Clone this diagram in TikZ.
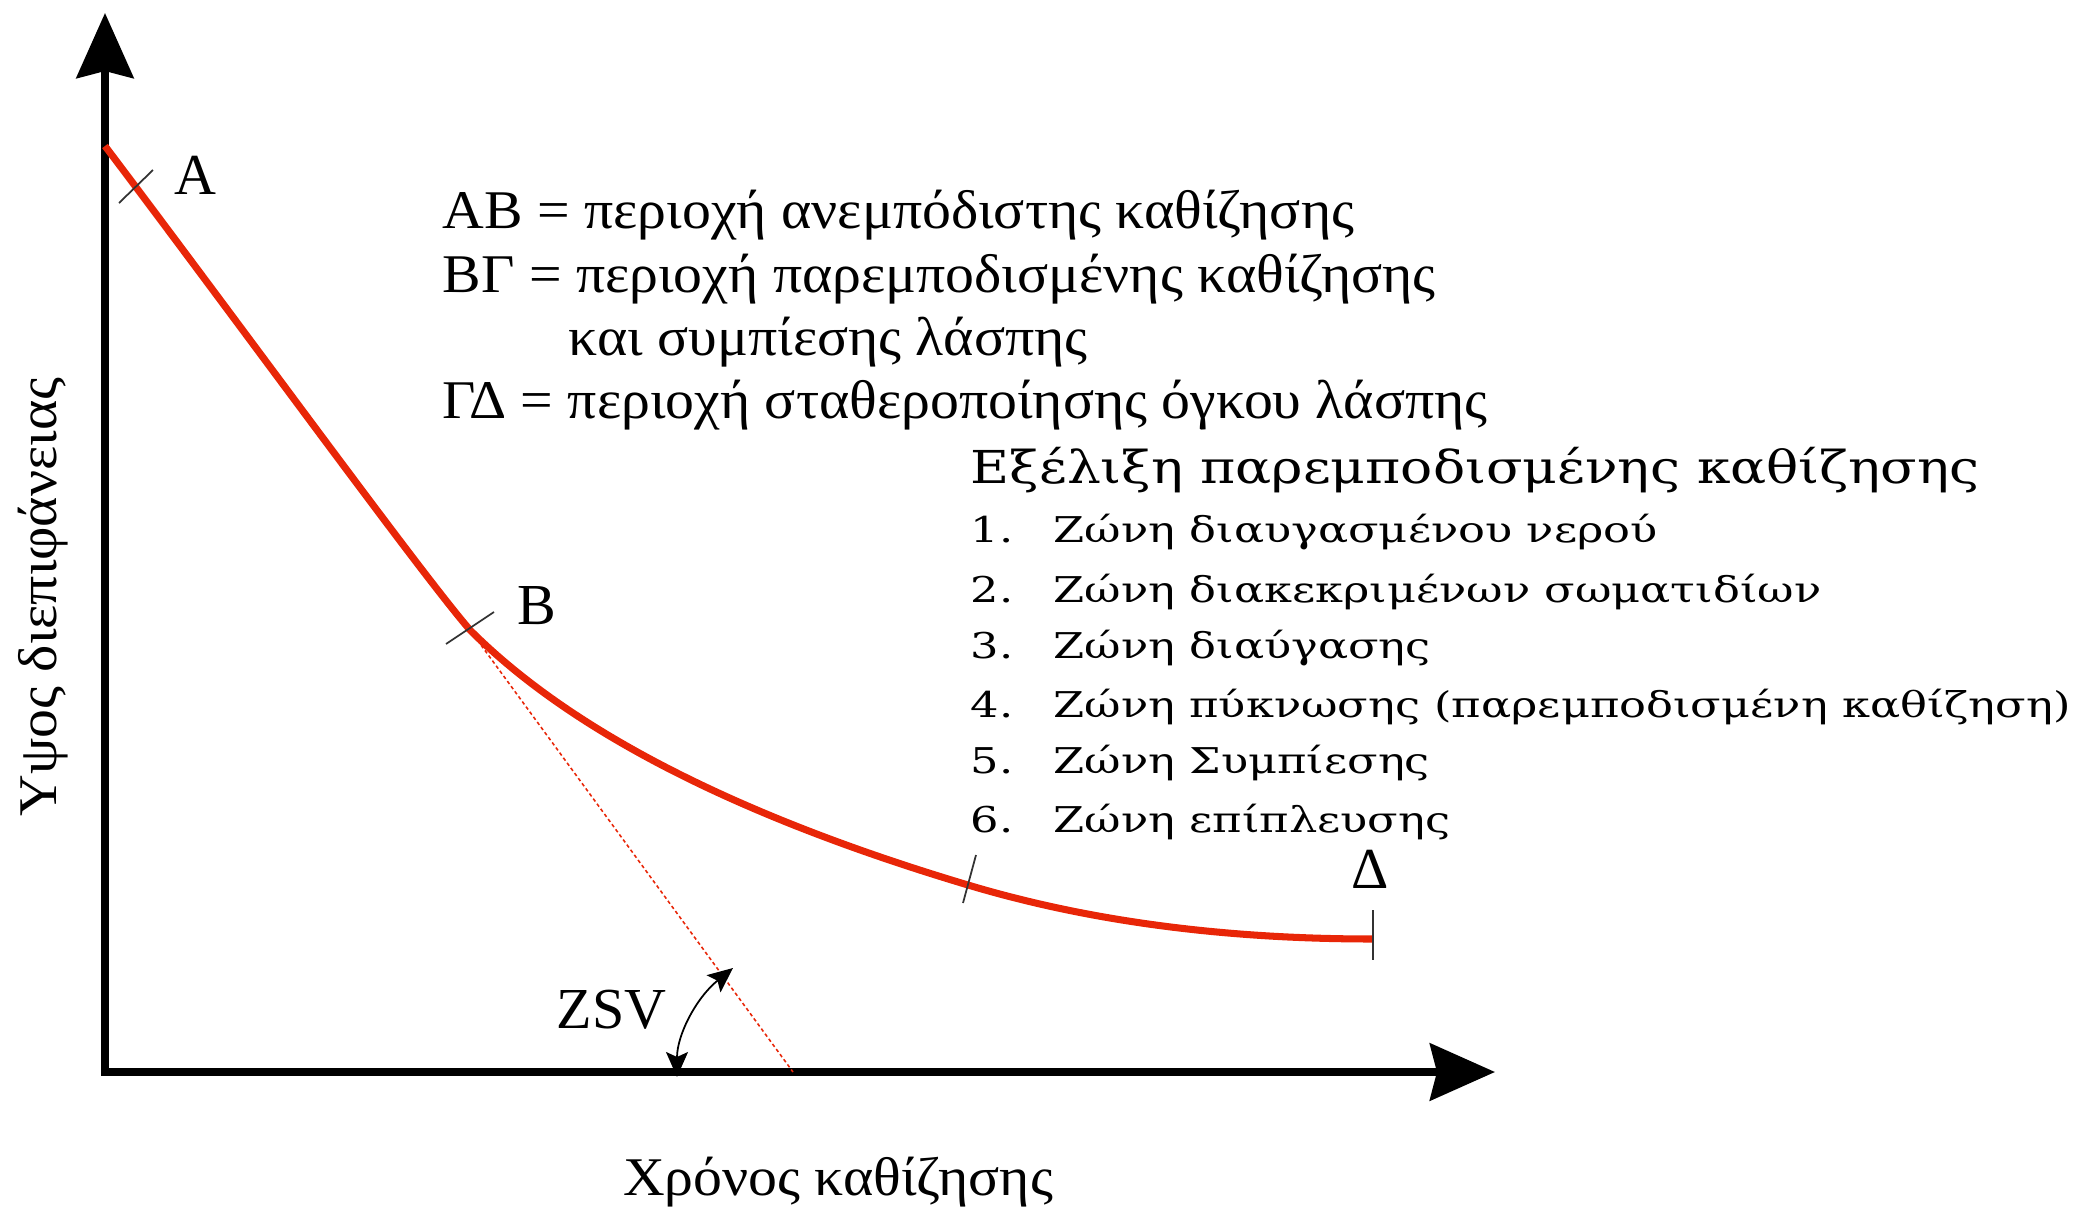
\documentclass[tikz,border=0pt]{standalone}
\usepackage{fontspec}
\setmainfont{Liberation Serif}
\newfontfamily\legendfont[FakeStretch=1.06]{Liberation Serif}
\newfontfamily\zonefont[FakeStretch=1.18]{DejaVu Serif}
\newfontfamily\itemfont[FakeStretch=1.26]{DejaVu Serif}
\usetikzlibrary{arrows.meta}
\definecolor{curvered}{RGB}{232,38,8}

\begin{document}
\begin{tikzpicture}[x=0.01cm, y=-0.01cm, every node/.style={inner sep=0pt, anchor=base west}]

% Define styles
\tikzstyle{axis} = [line width=2.1pt, line join=miter, {Stealth[length=6.5mm, width=5.7mm, inset=0.7mm]}-{Stealth[length=6.5mm, width=5.7mm, inset=0.7mm]}]
\tikzstyle{curve} = [line width=2pt, draw=curvered]
\tikzstyle{tangent} = [line width=0.45pt, draw=curvered, dash pattern=on 1pt off 0.8pt]
\tikzstyle{tick} = [line width=0.5pt, draw=black!80]
\tikzstyle{zsvarrow} = [line width=0.5pt, {Stealth[length=2.5mm, width=2.2mm, inset=0.5mm]}-{Stealth[length=2.5mm, width=2.2mm, inset=0.5mm]}]
\tikzstyle{legend} = [font=\legendfont\fontsize{15.5}{18}\selectfont]
\tikzstyle{zonetitle} = [font=\zonefont\fontsize{12.9}{15}\selectfont]
\tikzstyle{zone} = [font=\itemfont\fontsize{10.1}{12}\selectfont]
\tikzstyle{pointlabel} = [font=\fontsize{16.5}{18}\selectfont]

\useasboundingbox (0,0) rectangle (2075,1212);

% Axes
\coordinate (ytop) at (105,13);
\coordinate (O) at (105,1072);
\coordinate (xend) at (1495,1072);
\draw[axis] (ytop) -- (O) -- (xend);

% Points on the settling curve
\coordinate (A) at (136,187);
\coordinate (B) at (470,630);
\coordinate (G) at (968,885);
\coordinate (D) at (1373,939);
\coordinate (Z) at (793,1072);

\draw[tangent] (B) -- (Z);
\draw[curve] (105,146) .. controls (250,338) and (420,572) .. (B)
  .. controls (571,731) and (737,816) .. (G)
  .. controls (1088,921) and (1223,939) .. (D);

% Ticks
\draw[tick] (A) ++(-17,16) -- ++(34,-33);
\draw[tick] (B) ++(-24,14) -- ++(48,-32);
\draw[tick] (G) ++(-5,18) -- ++(13,-48);
\draw[tick] (D) ++(0,-29) -- ++(0,50);

\node[pointlabel] (lA) at (174,194) {A};
\node[pointlabel] (lB) at (517,624) {B};
\node[pointlabel] (lD) at (1351,888) {Δ};

% ZSV angle
\coordinate (zsv1) at (677,1077);
\coordinate (zsv2) at (733,968);
\draw[zsvarrow] (zsv1) .. controls (677,1035) and (696,998) .. (zsv2);
\node[pointlabel] (lzsv) at (556,1028) {ZSV};

% Legend
\node[legend] (ab) at (442,228) {ΑΒ = περιοχή ανεμπόδιστης καθίζησης};
\node[legend] (bg) at (442,292) {ΒΓ = περιοχή παρεμποδισμένης καθίζησης};
\node[legend] (bg2) at (568,355) {και συμπίεσης λάσπης};
\node[legend] (gd) at (442,418) {ΓΔ = περιοχή σταθεροποίησης όγκου λάσπης};

% Zones
\node[zonetitle] (evo) at (970,483) {Εξέλιξη παρεμποδισμένης καθίζησης};
\node[zone] (z1) at (970,542) {\makebox[0.83cm][l]{1.}Ζώνη διαυγασμένου νερού};
\node[zone] (z2) at (970,602) {\makebox[0.83cm][l]{2.}Ζώνη διακεκριμένων σωματιδίων};
\node[zone] (z3) at (970,658) {\makebox[0.83cm][l]{3.}Ζώνη διαύγασης};
\node[zone] (z4) at (970,717) {\makebox[0.83cm][l]{4.}Ζώνη πύκνωσης (παρεμποδισμένη καθίζηση)};
\node[zone] (z5) at (970,773) {\makebox[0.83cm][l]{5.}Ζώνη Συμπίεσης};
\node[zone] (z6) at (970,832) {\makebox[0.83cm][l]{6.}Ζώνη επίπλευσης};

% Axis titles
\node[legend, anchor=base] (tlabel) at (838,1195) {Χρόνος καθίζησης};
\node[legend, anchor=base, rotate=90] (hlabel) at (57,597) {Υψος διεπιφάνειας};

\end{tikzpicture}
\end{document}
